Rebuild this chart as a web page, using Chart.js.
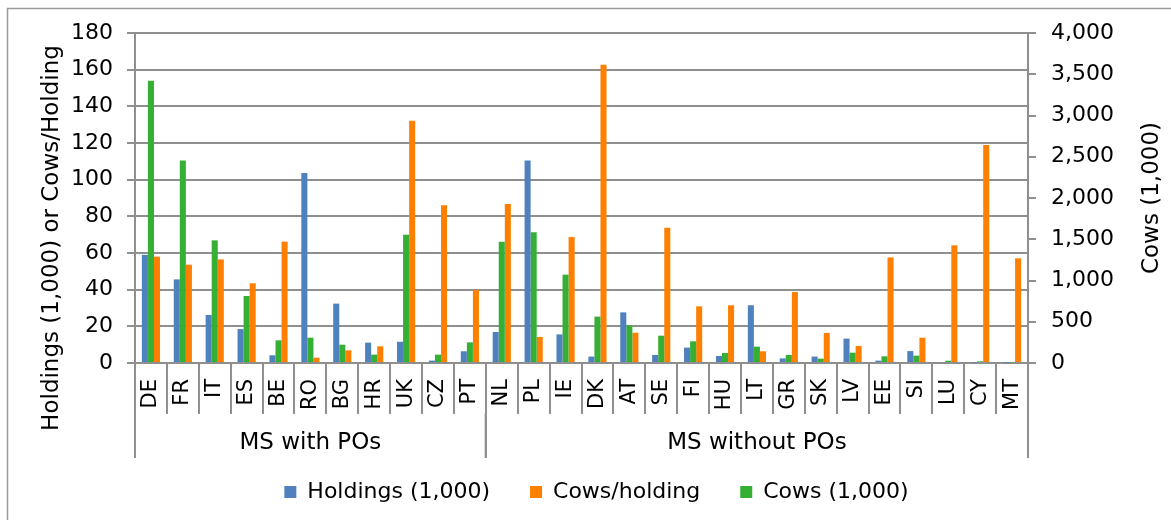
<!DOCTYPE html>
<html lang="en">
<head>
    <meta charset="UTF-8">
    <title>Dairy holdings by Member State</title>
    <script src="https://cdn.jsdelivr.net/npm/chart.js"></script>
    <style>
        html, body {
            margin: 0;
            padding: 0;
            background: #ffffff;
        }
        #wrap {
            width: 1171px;
            height: 520px;
        }
    </style>
</head>
<body>
    <div id="wrap"><canvas id="chart"></canvas></div>

    <script>
        // categories (Member States) and the two groups under them
        const countries = ['DE', 'FR', 'IT', 'ES', 'BE', 'RO', 'BG', 'HR', 'UK', 'CZ', 'PT',
                           'NL', 'PL', 'IE', 'DK', 'AT', 'SE', 'FI', 'HU', 'LT', 'GR', 'SK', 'LV', 'EE', 'SI', 'LU', 'CY', 'MT'];
        const groupLabels = ['MS with POs', 'MS without POs'];
        const groupSizes = [11, 17];

        // series values
        const holdings = [59, 45.6, 26.2, 18.5, 4.2, 103.6, 32.4, 11.1, 11.6, 1.3, 6.4,
                          16.9, 110.4, 15.6, 3.5, 27.6, 4.4, 8.4, 3.8, 31.5, 2.5, 3.5, 13.3, 1.3, 6.5, 0.5, 0.2, 0.1];
        const cowsPerHolding = [58, 53.6, 56.5, 43.5, 66.2, 2.9, 6.9, 9.1, 132.2, 86, 39.8,
                                86.7, 14.2, 68.7, 162.7, 16.5, 73.8, 30.9, 31.5, 6.4, 38.7, 16.4, 9.3, 57.6, 13.8, 64.2, 118.9, 57.1];
        const cows = [3422, 2456, 1487, 812, 275, 307, 222, 101, 1555, 101, 250,
                      1470, 1584, 1071, 562, 457, 331, 263, 121, 198, 97, 53, 125, 81, 89, 28, 20, 8];

        // axis settings
        const leftMax = 180, leftStep = 20;
        const rightMax = 4000, rightStep = 500;
        const leftTitle = 'Holdings (1,000) or Cows/Holding';
        const rightTitle = 'Cows (1,000)';
        const legendOrder = ['Holdings (1,000)', 'Cows/holding', 'Cows (1,000)'];

        const gridColor = '#8f8f8f';
        const textColor = '#000000';
        const fontFamily = "'DejaVu Sans', Verdana, sans-serif";

        Chart.defaults.font.family = fontFamily;
        Chart.defaults.font.size = 22;
        Chart.defaults.color = textColor;

        // frame, group row under the country labels, axis titles
        const decor = {
            id: 'decor',
            beforeDraw(chart) {
                const ctx = chart.ctx;
                ctx.save();
                ctx.strokeStyle = '#9a9a9a';
                ctx.lineWidth = 1.5;
                ctx.beginPath();
                ctx.moveTo(7.5, chart.height);
                ctx.lineTo(7.5, 8.5);
                ctx.lineTo(chart.width, 8.5);
                ctx.stroke();
                ctx.restore();
            },
            afterDraw(chart) {
                const { ctx, chartArea, scales } = chart;
                const x = scales.x;
                const half = (x.getPixelForValue(1) - x.getPixelForValue(0)) / 2;
                const rowTop = chartArea.bottom + 51;
                const rowBottom = chartArea.bottom + 95;

                ctx.save();
                ctx.strokeStyle = gridColor;
                ctx.lineWidth = 2;
                ctx.fillStyle = textColor;
                ctx.font = '23px ' + fontFamily;
                ctx.textAlign = 'center';
                ctx.textBaseline = 'middle';

                let start = 0;
                groupSizes.forEach((n, i) => {
                    const left = x.getPixelForValue(start) - half;
                    const right = x.getPixelForValue(start + n - 1) + half;
                    ctx.beginPath();
                    ctx.moveTo(left, rowTop);
                    ctx.lineTo(left, rowBottom);
                    ctx.moveTo(right, rowTop);
                    ctx.lineTo(right, rowBottom);
                    ctx.stroke();
                    ctx.fillText(groupLabels[i], (left + right) / 2, chartArea.bottom + 80);
                    start += n;
                });

                // axis titles, both reading bottom to top
                ctx.save();
                ctx.translate(52, 238);
                ctx.rotate(-Math.PI / 2);
                ctx.fillText(leftTitle, 0, 0);
                ctx.restore();

                ctx.save();
                ctx.translate(chartArea.right + 124, (chartArea.top + chartArea.bottom) / 2);
                ctx.rotate(-Math.PI / 2);
                ctx.fillText(rightTitle, 0, 0);
                ctx.restore();

                ctx.restore();
            }
        };

        const ctx = document.getElementById('chart').getContext('2d');
        new Chart(ctx, {
            type: 'bar',
            data: {
                labels: countries,
                datasets: [
                    {
                        label: 'Holdings (1,000)',
                        data: holdings,
                        backgroundColor: '#4f81bd',
                        yAxisID: 'y'
                    },
                    {
                        label: 'Cows (1,000)',
                        data: cows,
                        backgroundColor: '#35b035',
                        yAxisID: 'y2'
                    },
                    {
                        label: 'Cows/holding',
                        data: cowsPerHolding,
                        backgroundColor: '#ff7f00',
                        yAxisID: 'y'
                    }
                ]
            },
            options: {
                responsive: true,
                maintainAspectRatio: false,
                animation: false,
                datasets: {
                    bar: {
                        categoryPercentage: 0.57,
                        barPercentage: 1.0
                    }
                },
                layout: {
                    padding: { top: 33, left: 22, right: 0, bottom: 7 }
                },
                scales: {
                    x: {
                        offset: true,
                        grid: {
                            offset: true,
                            drawOnChartArea: false,
                            drawTicks: true,
                            tickLength: 51,
                            color: gridColor,
                            lineWidth: 2
                        },
                        border: { color: gridColor, width: 2 },
                        ticks: {
                            autoSkip: false,
                            minRotation: 90,
                            maxRotation: 90,
                            padding: -35,
                            color: textColor,
                            font: { size: 21 }
                        },
                        afterFit: s => { s.height = 78; }
                    },
                    y: {
                        position: 'left',
                        min: 0,
                        max: leftMax,
                        ticks: { stepSize: leftStep, padding: 14, color: textColor },
                        grid: { color: gridColor, lineWidth: 2, tickLength: 8 },
                        border: { color: gridColor, width: 2 },
                        afterFit: s => { s.width = 113; }
                    },
                    y2: {
                        position: 'right',
                        min: 0,
                        max: rightMax,
                        ticks: {
                            stepSize: rightStep,
                            padding: 15,
                            color: textColor,
                            callback: v => v.toLocaleString('en-US')
                        },
                        grid: { drawOnChartArea: false, color: gridColor, lineWidth: 2, tickLength: 8 },
                        border: { color: gridColor, width: 2 },
                        afterFit: s => { s.width = 143; }
                    }
                },
                plugins: {
                    legend: {
                        position: 'bottom',
                        labels: {
                            boxWidth: 12,
                            boxHeight: 12,
                            padding: 40,
                            color: textColor,
                            sort: (a, b) => legendOrder.indexOf(a.text) - legendOrder.indexOf(b.text)
                        }
                    },
                    tooltip: { enabled: false }
                }
            },
            plugins: [decor]
        });
    </script>
</body>
</html>
